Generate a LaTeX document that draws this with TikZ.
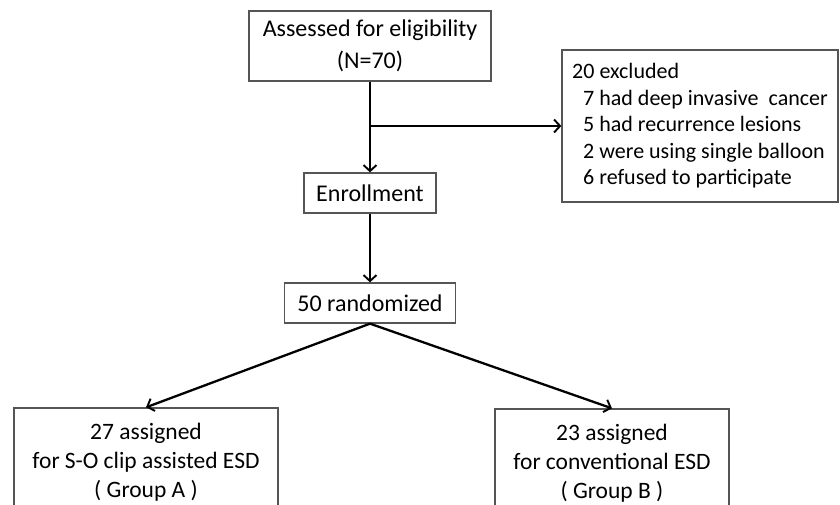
\documentclass[tikz,border=0pt]{standalone}
\usepackage{fontspec}
\setmainfont{Carlito}
\usetikzlibrary{arrows.meta}
\definecolor{boxline}{RGB}{85,85,85}
\begin{document}
\begin{tikzpicture}[x=1pt,y=-1pt,
  box/.style={draw=boxline,line width=1.3pt,inner sep=0pt,align=center,text=black},
  arr/.style={draw=black,line width=2.3pt,-{Straight Barb[length=6pt,width=13pt,line width=1.9pt]}},
  big/.style={font=\fontsize{24}{32}\selectfont},
  grp/.style={font=\fontsize{23.5}{28.8}\selectfont}]
\useasboundingbox (0,0) rectangle (840,505);
\clip (0,0) rectangle (840,505);
\fill[white] (0,0) rectangle (840,505);
\node[box,big,minimum width=242,minimum height=70] (assess) at (370,46) {Assessed for eligibility\\(N=70)};
\node[box,big,minimum width=132,minimum height=40] (enroll) at (370,193) {Enrollment};
\node[box,big,minimum width=171,minimum height=40] (rand) at (370,303) {50 randomized};
\node[box,align=left,minimum width=276,minimum height=152,
  font=\fontsize{22}{26.5}\selectfont] (excl) at (700,126)
  {20 excluded\\
   \hspace*{11pt}7 had deep invasive\ \ cancer\\
   \hspace*{11pt}5 had recurrence lesions\\
   \hspace*{11pt}2 were using single balloon\\
   \hspace*{11pt}6 refused to participate};
\node[box,grp,minimum width=264,minimum height=108] (grpA) at (146,462) {27 assigned\\for S-O clip assisted ESD\\( Group A )};
\node[box,grp,minimum width=234,minimum height=108] (grpB) at (612,463) {23 assigned\\for conventional ESD\\( Group B )};
\coordinate (br) at (assess.south |- excl.west);
\draw[arr] (assess.south) -- (enroll.north);
\draw[arr] (br) -- (excl.west);
\draw[arr] (enroll.south) -- (rand.north);
\draw[arr] (rand.south) -- (grpA.north);
\draw[arr] (rand.south) -- (grpB.north);
\end{tikzpicture}
\end{document}
